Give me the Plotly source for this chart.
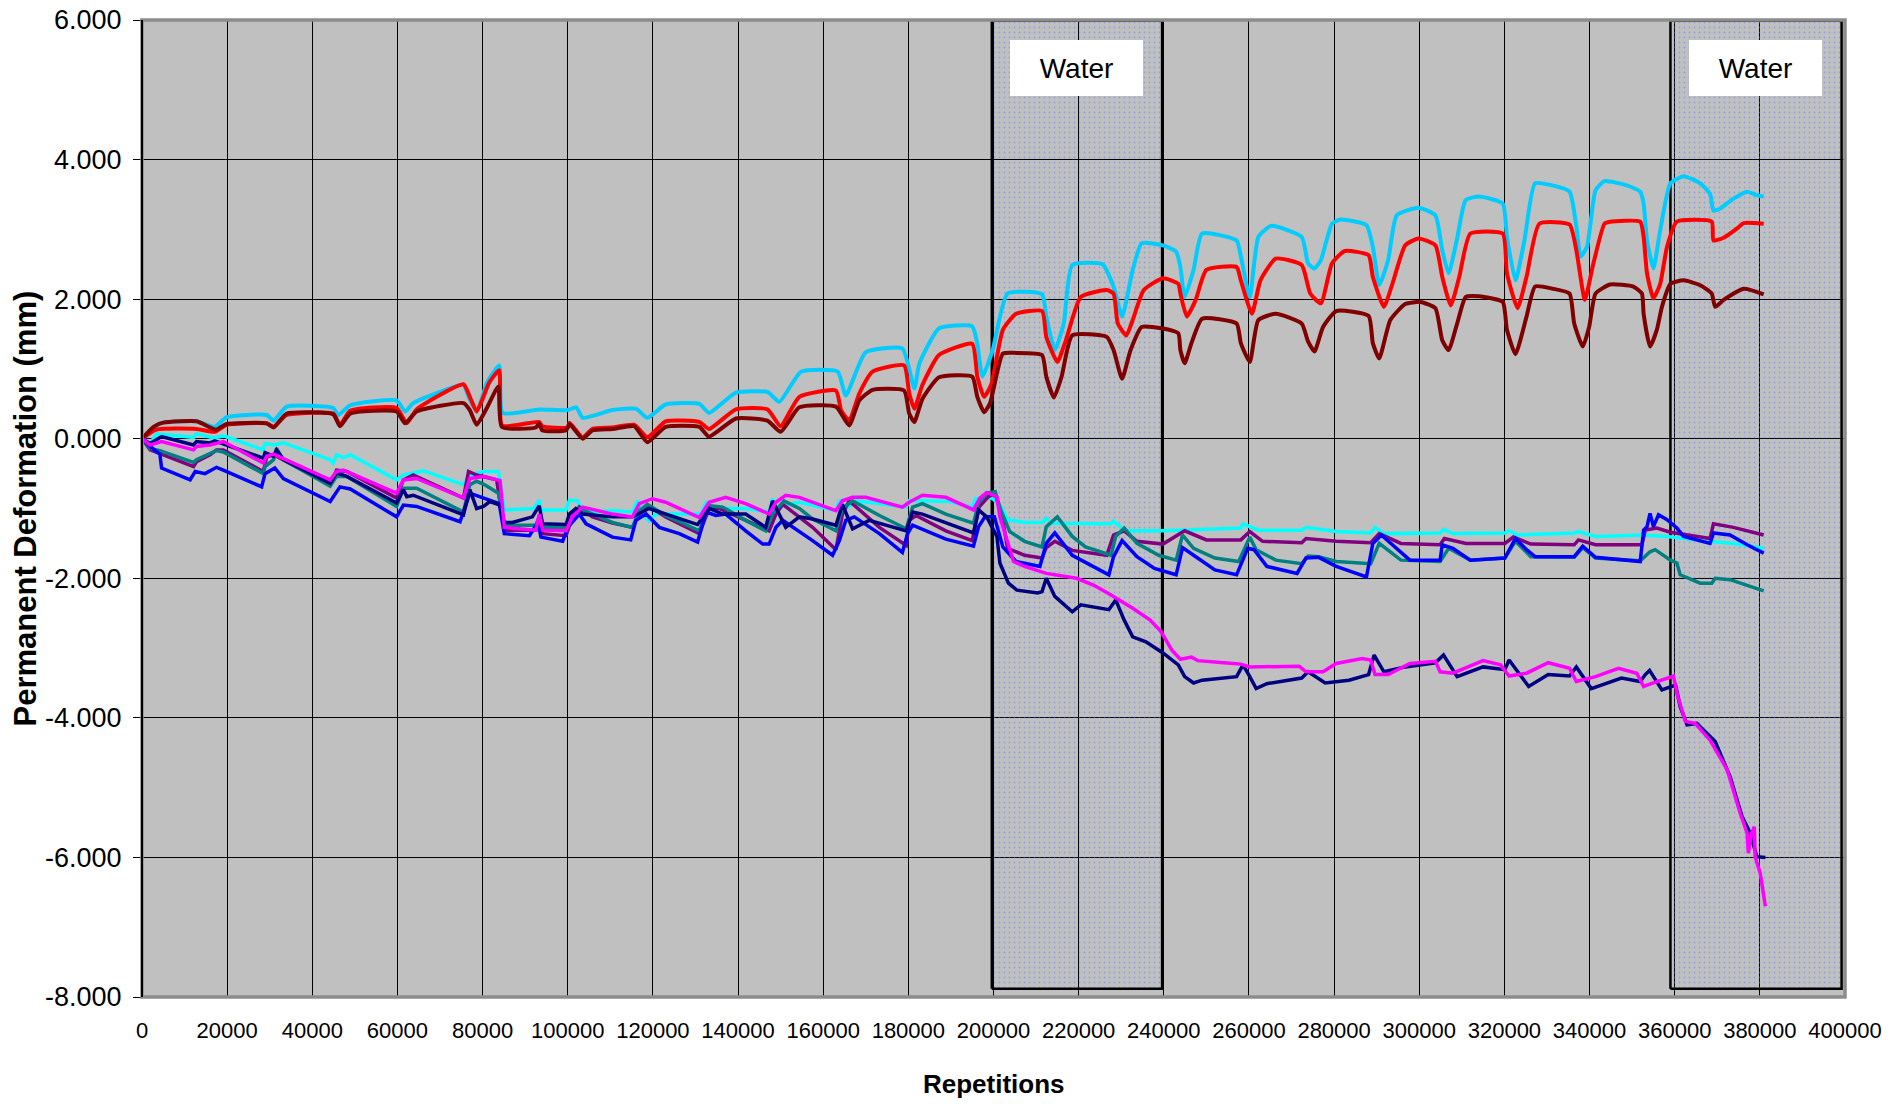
import plotly.graph_objects as go

# ---------------- data (repetitions, permanent deformation mm) ----------------
sky_x = [0, 1900, 4200, 12800, 17100, 19900, 29300, 30900, 34000, 44900, 46100, 48900, 59800, 61800, 63700,
         75500, 76700, 78600, 80200, 81000, 83900, 84700, 93300, 100000, 102000, 103500, 110500, 116000, 118700,
         123000, 130900, 133200, 139500, 146900, 149700, 154800, 163400, 165300, 170000, 178600, 181400, 182600,
         187200, 195000, 196200, 197400, 199800, 203300, 211400, 212400, 214400, 216500, 218500, 225600, 228200,
         230200, 232700, 234800, 239800, 242900, 243900, 244900, 247000, 249000, 257100, 258100, 260200, 262200,
         265200, 272400, 273900, 275400, 276900, 279500, 281500, 287600, 289100, 290600, 292700, 294700, 299800,
         303800, 305400, 306900, 308900, 310900, 314000, 319600, 320600, 322600, 324700, 327200, 331300, 335300,
         336900, 337900, 339400, 341400, 343500, 348800, 351900, 352700, 353500, 355000, 356600, 359000, 362100,
         366000, 368300, 369100, 370700, 373800, 377000, 379300, 380900]
sky_y = [0, 0.08, 0.22, 0.25, 0.17, 0.31, 0.34, 0.26, 0.46, 0.44, 0.34, 0.48, 0.55, 0.39, 0.51,
         0.77, 0.60, 0.39, 0.65, 0.80, 1.05, 0.37, 0.42, 0.41, 0.45, 0.30, 0.41, 0.43, 0.30,
         0.49, 0.50, 0.37, 0.66, 0.67, 0.53, 0.96, 0.96, 0.62, 1.24, 1.29, 0.72, 1.08,
         1.58, 1.61, 1.36, 0.89, 1.27, 2.08, 2.07, 1.75, 1.27, 1.65, 2.49, 2.50, 2.18,
         1.75, 2.42, 2.80, 2.77, 2.68, 2.46, 2.03, 2.42, 2.94, 2.84, 2.61, 2.03, 2.89,
         3.05, 2.89, 2.51, 2.44, 2.56, 3.08, 3.14, 3.06, 2.75, 2.20, 2.56, 3.20, 3.31,
         3.20, 2.70, 2.37, 2.87, 3.42, 3.47, 3.37, 2.89, 2.27, 2.84, 3.66, 3.63, 3.54,
         3.04, 2.61, 2.75, 3.56, 3.69, 3.63, 3.54, 3.37, 2.84, 2.44, 2.99, 3.66, 3.76,
         3.66, 3.51, 3.27, 3.30, 3.44, 3.54, 3.49, 3.47]

red_x = [0, 3400, 12800, 17100, 19900, 29300, 30900, 34000, 44900, 46500, 48900, 59800, 62200, 64500, 75500,
         77000, 78600, 80200, 81500, 83900, 84600, 93300, 94000, 100000, 100400, 103500, 105800, 110500, 115600,
         118700, 123000, 130900, 133200, 139500, 146900, 150000, 154400, 163000, 164200, 166100, 168500, 171600,
         179000, 180200, 181400, 183300, 187200, 195000, 196200, 197800, 199500, 202200, 205300, 211400, 212400,
         215000, 217000, 220500, 226600, 228200, 229200, 231200, 232700, 235300, 239800, 243400, 243900, 245400,
         247500, 250000, 257100, 258100, 260700, 262700, 266300, 272400, 274400, 276900, 279500, 282500, 288100,
         289100, 291700, 293700, 296700, 299800, 303800, 305400, 307400, 309400, 312000, 319600, 320600, 323100,
         325200, 328200, 335300, 336900, 338900, 340900, 343500, 344800, 351900, 352700, 353500, 355000, 356600,
         358200, 360500, 368700, 369100, 371500, 374600, 376200, 380900]
red_y = [0, 0.13, 0.14, 0.10, 0.20, 0.22, 0.17, 0.34, 0.36, 0.20, 0.40, 0.44, 0.22, 0.42, 0.78,
         0.60, 0.39, 0.60, 0.80, 0.98, 0.19, 0.24, 0.18, 0.16, 0.23, 0.02, 0.14, 0.16, 0.20,
         0.02, 0.25, 0.24, 0.14, 0.42, 0.42, 0.18, 0.60, 0.69, 0.41, 0.26, 0.65, 0.96,
         1.05, 0.65, 0.43, 0.77, 1.20, 1.36, 0.89, 0.60, 0.78, 1.56, 1.79, 1.83, 1.46,
         1.10, 1.41, 2.03, 2.13, 2.08, 1.65, 1.48, 1.70, 2.13, 2.30, 2.22, 2.08, 1.75,
         1.99, 2.42, 2.46, 2.27, 1.79, 2.27, 2.58, 2.49, 2.08, 1.94, 2.51, 2.69, 2.63,
         2.32, 1.89, 2.22, 2.77, 2.87, 2.77, 2.32, 1.91, 2.32, 2.94, 2.94, 2.37, 1.87,
         2.32, 3.08, 3.07, 2.70, 1.99, 2.51, 3.08, 3.11, 3.11, 2.89, 2.37, 2.01, 2.22,
         2.75, 3.11, 3.11, 2.84, 2.88, 3.01, 3.09, 3.08]

dkred_x = [0, 2700, 5000, 12800, 17400, 19900, 29300, 30900, 34000, 44900, 46500, 48900, 59800, 61800, 64500,
           75500, 77000, 78600, 81000, 83700, 84500, 92500, 93300, 94000, 99600, 100400, 103500, 105800, 110500,
           115600, 118700, 123000, 130900, 133200, 139500, 146900, 150000, 154400, 163000, 166100, 168500, 171600,
           179000, 180200, 181400, 183300, 187200, 195000, 196200, 197800, 199200, 202200, 205300, 211400, 212400,
           214200, 216000, 218500, 226600, 228200, 230200, 232200, 234800, 239800, 243400, 243900, 244900, 246500,
           249000, 257100, 258100, 260200, 262200, 266300, 272400, 273900, 275400, 277400, 280500, 288100, 289100,
           290600, 293200, 296700, 300300, 303800, 305400, 306900, 308900, 310900, 314000, 319600, 320600, 322600,
           325200, 327200, 331300, 335300, 336400, 338400, 339900, 341400, 344800, 350300, 352300, 352700, 354200,
           355800, 357000, 359000, 362100, 366000, 368700, 369500, 371500, 376200, 380900]
dkred_y = [0, 0.17, 0.23, 0.25, 0.13, 0.21, 0.22, 0.16, 0.36, 0.35, 0.18, 0.36, 0.39, 0.22, 0.39,
           0.51, 0.41, 0.20, 0.44, 0.75, 0.17, 0.16, 0.22, 0.12, 0.12, 0.21, 0.00, 0.12, 0.14,
           0.18, -0.05, 0.17, 0.17, 0.03, 0.29, 0.26, 0.10, 0.45, 0.46, 0.19, 0.55, 0.70,
           0.69, 0.36, 0.24, 0.57, 0.88, 0.89, 0.60, 0.38, 0.51, 1.22, 1.23, 1.20, 0.89,
           0.59, 0.89, 1.48, 1.46, 1.27, 0.86, 1.27, 1.60, 1.58, 1.51, 1.27, 1.08, 1.37,
           1.72, 1.65, 1.37, 1.10, 1.70, 1.79, 1.65, 1.39, 1.25, 1.60, 1.83, 1.76, 1.37,
           1.15, 1.70, 1.93, 1.96, 1.87, 1.41, 1.27, 1.65, 2.03, 2.04, 1.96, 1.56, 1.21,
           1.75, 2.18, 2.15, 2.08, 1.65, 1.32, 1.60, 2.08, 2.21, 2.18, 2.08, 1.79, 1.32,
           1.56, 1.89, 2.22, 2.27, 2.20, 2.08, 1.89, 1.99, 2.15, 2.07]

cyan_x = [0, 1900, 3400, 12100, 12800, 16800, 19100, 20700, 28500, 28900, 30900, 33200, 44200, 44900, 45700,
          47300, 48900, 59800, 61400, 66100, 75500, 77000, 80200, 83700, 85100, 92100, 93300, 93700, 99600,
          100400, 102300, 103100, 105800, 110500, 115200, 116400, 117600, 119100, 120700, 131300, 132500, 134000,
          141800, 147300, 148100, 149300, 150500, 154400, 163000, 163800, 165300, 167700, 179500, 180200, 182600,
          189800, 195000, 195800, 199600, 201500, 203300, 207300, 211400, 212400, 213400, 227600, 228200, 230700,
          239800, 258100, 258600, 262200, 272400, 273400, 280500, 288600, 289600, 291700, 304900, 305700, 307900,
          320100, 321100, 323200, 336400, 337400, 341400, 351600, 352700, 358200, 366000, 373800, 380900]
cyan_y = [0, -0.07, 0.07, 0.02, 0.07, 0.01, 0.04, 0.01, -0.16, -0.07, -0.09, -0.06, -0.30, -0.35, -0.23,
          -0.27, -0.23, -0.59, -0.52, -0.46, -0.66, -0.52, -0.47, -0.47, -1.02, -1.00, -0.88, -1.02, -1.02,
          -0.88, -0.89, -1.00, -1.05, -1.03, -1.05, -0.89, -1.08, -1.18, -1.08, -1.08, -0.92, -1.00,
          -1.00, -1.05, -0.86, -1.03, -0.96, -0.91, -1.03, -0.88, -1.00, -0.89, -0.98, -0.89, -0.89,
          -0.90, -0.98, -0.86, -0.85, -0.95, -1.16, -1.20, -1.20, -1.14, -1.21, -1.22, -1.18, -1.32,
          -1.32, -1.28, -1.22, -1.31, -1.31, -1.27, -1.33, -1.35, -1.27, -1.36, -1.35, -1.30, -1.36,
          -1.35, -1.32, -1.38, -1.35, -1.33, -1.40, -1.39, -1.38, -1.40, -1.46, -1.50, -1.57]

purple_x = [0, 1900, 5000, 12100, 12800, 16000, 17500, 19100, 28500, 29300, 30900, 44200, 45700, 48100, 59800,
            61400, 63700, 75500, 76700, 78600, 83300, 85100, 92500, 93300, 94100, 99600, 101100, 102700, 105800,
            110500, 115200, 116800, 119100, 123000, 130900, 133200, 135600, 141800, 147300, 148900, 150500, 157500,
            163000, 164500, 166100, 173200, 179500, 180200, 181800, 188800, 195000, 196600, 198800, 200400, 202300,
            203300, 207300, 211400, 212400, 214400, 218500, 226600, 228200, 230700, 233700, 239800, 243900, 244900,
            250000, 258100, 260200, 263200, 272400, 273400, 280500, 288600, 290600, 295700, 304900, 305900, 311000,
            320100, 322100, 326200, 336400, 337400, 341400, 352300, 353100, 355800, 359000, 368300, 369100, 373800,
            380900]
purple_y = [0, -0.16, -0.23, -0.40, -0.33, -0.23, -0.16, -0.16, -0.47, -0.26, -0.23, -0.66, -0.45, -0.47, -0.85,
            -0.59, -0.52, -0.85, -0.47, -0.52, -0.59, -1.31, -1.31, -1.17, -1.36, -1.39, -1.12, -0.98, -1.12,
            -1.21, -1.27, -1.08, -0.97, -1.12, -1.36, -1.00, -1.00, -1.17, -1.32, -1.08, -0.94, -1.27,
            -1.59, -1.08, -0.89, -1.27, -1.53, -1.17, -1.10, -1.32, -1.46, -0.98, -0.83, -0.78, -1.21,
            -1.57, -1.67, -1.71, -1.56, -1.47, -1.60, -1.67, -1.38, -1.32, -1.47, -1.51, -1.35, -1.32,
            -1.45, -1.45, -1.33, -1.47, -1.49, -1.43, -1.47, -1.49, -1.36, -1.50, -1.52, -1.43, -1.50,
            -1.50, -1.41, -1.51, -1.52, -1.45, -1.52, -1.52, -1.31, -1.28, -1.34, -1.43, -1.22, -1.27,
            -1.38]

teal_x = [0, 1900, 4200, 12100, 12800, 17500, 19100, 28500, 28900, 30900, 31600, 33200, 44200, 45700, 48100,
          59800, 61400, 64500, 75500, 77000, 78600, 80200, 83700, 85100, 92500, 93300, 94100, 99600, 102700,
          105800, 110500, 115200, 116800, 118700, 123000, 130900, 133200, 136400, 141800, 146500, 148100, 150800,
          154400, 157500, 163000, 164500, 166900, 173200, 179500, 181000, 183300, 188800, 195300, 196500, 198400,
          200400, 201700, 203800, 207300, 211400, 212400, 215000, 218500, 221600, 227600, 228700, 230700, 233700,
          238800, 242900, 244400, 247000, 252000, 257600, 260200, 261700, 266300, 272400, 273900, 276400, 280500,
          288600, 290600, 295700, 304900, 306900, 312000, 320100, 322600, 326200, 336400, 338400, 341400, 351900,
          354200, 355400, 359000, 360500, 361300, 366000, 368700, 369500, 373000, 380900]
teal_y = [0, -0.14, -0.17, -0.34, -0.30, -0.17, -0.19, -0.50, -0.40, -0.30, -0.14, -0.30, -0.68, -0.54, -0.54,
          -0.97, -0.71, -0.71, -1.05, -0.66, -0.61, -0.65, -0.78, -1.24, -1.24, -1.12, -1.27, -1.27, -1.00,
          -1.08, -1.20, -1.27, -1.03, -0.94, -1.10, -1.32, -0.96, -0.98, -1.17, -1.32, -1.08, -0.89,
          -1.00, -1.15, -1.32, -1.00, -0.89, -1.10, -1.29, -0.98, -0.93, -1.08, -1.21, -0.92, -0.78,
          -0.76, -1.02, -1.33, -1.47, -1.55, -1.26, -1.12, -1.40, -1.55, -1.67, -1.40, -1.28, -1.50,
          -1.67, -1.74, -1.38, -1.57, -1.71, -1.76, -1.41, -1.59, -1.74, -1.79, -1.68, -1.69, -1.76,
          -1.79, -1.50, -1.74, -1.76, -1.57, -1.74, -1.71, -1.47, -1.69, -1.70, -1.56, -1.71, -1.75,
          -1.62, -1.59, -1.74, -1.78, -1.95, -2.07, -2.07, -2.00, -2.02, -2.18]

blue_x = [0, 1900, 4200, 4600, 11300, 12500, 14800, 17500, 19100, 28100, 28900, 31200, 33200, 44200, 46500,
          48900, 59800, 61400, 64500, 74700, 77000, 79400, 83900, 85100, 91000, 93000, 93700, 98800, 100000,
          102700, 104300, 110500, 114800, 116000, 118400, 121500, 126200, 130500, 132500, 134800, 137100, 141800,
          145800, 147300, 148900, 150500, 157500, 162200, 163800, 165300, 167300, 173200, 178600, 179800, 181000,
          188800, 195300, 196500, 198000, 200200, 202200, 205300, 210900, 212400, 214400, 218500, 223600, 227100,
          228200, 230200, 233700, 237800, 242900, 244400, 247000, 252000, 257100, 259700, 261200, 264200, 271300,
          273400, 276400, 280500, 287600, 289100, 291100, 294700, 297800, 304900, 305400, 307900, 312000, 320100,
          322600, 325200, 327200, 336400, 338400, 341400, 351900, 352700, 353500, 354200, 355000, 356200, 358200,
          360500, 362100, 368300, 369100, 373000, 377000, 380900]
blue_y = [0, -0.11, -0.22, -0.42, -0.59, -0.47, -0.50, -0.41, -0.45, -0.69, -0.50, -0.42, -0.57, -0.90, -0.69,
          -0.72, -1.12, -0.95, -0.97, -1.19, -0.78, -0.83, -0.93, -1.36, -1.39, -1.20, -1.41, -1.47, -1.27,
          -1.08, -1.22, -1.41, -1.45, -1.17, -1.08, -1.27, -1.36, -1.48, -1.05, -1.10, -1.08, -1.32,
          -1.51, -1.51, -1.27, -1.17, -1.46, -1.67, -1.46, -1.17, -1.12, -1.36, -1.63, -1.36, -1.24,
          -1.44, -1.54, -1.26, -1.12, -1.12, -1.55, -1.76, -1.83, -1.50, -1.35, -1.67, -1.83, -1.95,
          -1.69, -1.46, -1.69, -1.86, -1.95, -1.56, -1.67, -1.88, -1.95, -1.57, -1.59, -1.83, -1.93,
          -1.71, -1.70, -1.83, -1.98, -1.50, -1.38, -1.58, -1.74, -1.74, -1.52, -1.57, -1.74, -1.71,
          -1.43, -1.59, -1.69, -1.69, -1.54, -1.70, -1.76, -1.31, -1.26, -1.07, -1.26, -1.09, -1.16,
          -1.28, -1.40, -1.50, -1.35, -1.38, -1.52, -1.64]

navy_x = [0, 1900, 4600, 12100, 12800, 16000, 17100, 28500, 28900, 30900, 31600, 33200, 44200, 45700, 48100,
          59800, 61400, 62200, 63700, 75500, 77000, 78600, 80200, 81700, 84100, 85100, 87000, 91700, 93300,
          94100, 99600, 100400, 101900, 103500, 110500, 115200, 119100, 123000, 130500, 133200, 136400, 141800,
          146500, 148100, 149700, 151200, 154400, 157500, 163000, 164500, 166900, 170800, 179500, 181000, 183300,
          188800, 195300, 196500, 198400, 200800, 201500, 203500, 205500, 210400, 211400, 212400, 214400, 218500,
          220500, 227100, 228700, 230700, 232700, 235800, 239800, 243400, 244900, 247000, 249000, 257100, 258600,
          260200, 261700, 264200, 272400, 273900, 277900, 283500, 288100, 289400, 291700, 296700, 300800, 303800,
          305700, 308900, 315000, 320100, 321100, 325700, 330300, 335300, 336900, 340400, 347500, 351900, 353100,
          354100, 357000, 360200, 361300, 362900, 365200, 369500, 373000, 375800, 377700, 379300, 381300]
navy_y = [0, -0.07, 0.03, -0.09, -0.04, -0.06, -0.03, -0.28, -0.20, -0.25, -0.16, -0.30, -0.64, -0.49, -0.54,
          -0.92, -0.73, -0.83, -0.81, -1.09, -0.73, -1.00, -0.97, -0.90, -0.95, -1.20, -1.20, -1.12, -0.96,
          -1.22, -1.23, -1.08, -1.00, -1.08, -1.12, -1.12, -1.00, -1.08, -1.23, -1.00, -1.08, -1.08,
          -1.27, -0.89, -1.08, -1.27, -1.12, -1.15, -1.24, -0.94, -1.29, -1.17, -1.32, -1.05, -1.08,
          -1.20, -1.35, -1.02, -1.12, -1.40, -1.78, -2.07, -2.17, -2.21, -2.19, -2.00, -2.26, -2.48,
          -2.38, -2.45, -2.31, -2.60, -2.84, -2.91, -3.07, -3.24, -3.41, -3.50, -3.46, -3.41, -3.24,
          -3.41, -3.58, -3.51, -3.43, -3.34, -3.50, -3.46, -3.38, -3.10, -3.34, -3.27, -3.23, -3.21,
          -3.10, -3.41, -3.27, -3.31, -3.17, -3.55, -3.38, -3.40, -3.27, -3.58, -3.43, -3.48, -3.38,
          -3.32, -3.60, -3.53, -3.84, -4.10, -4.08, -4.34, -4.84, -5.41, -5.65, -5.99, -6.00]

mag_x = [0, 1900, 4600, 12100, 12800, 16000, 19100, 28500, 29300, 30900, 44200, 45700, 47300, 59800, 61400,
         64500, 75500, 77000, 80200, 84100, 85100, 92500, 93300, 94100, 99600, 101100, 103500, 110500, 115200,
         116800, 119900, 123000, 130900, 133200, 137100, 141800, 147300, 148900, 151200, 154400, 163000, 164500,
         166900, 170000, 178600, 180200, 183300, 188800, 195300, 196800, 198400, 200800, 201500, 203100, 204700,
         207300, 212400, 219500, 223600, 227600, 232700, 236800, 239300, 241900, 243900, 246500, 248000, 254100,
         258100, 260200, 266300, 271800, 273400, 277400, 280500, 286600, 288600, 289600, 292700, 297800, 303800,
         304900, 307900, 315000, 319100, 321100, 325200, 330300, 335300, 336900, 341400, 346800, 351100, 352700,
         353500, 355400, 359700, 360700, 362500, 364800, 368300, 372300, 375400, 377000, 377300, 378100, 378700,
         378900, 380100, 381300]
mag_y = [0, -0.09, -0.04, -0.16, -0.11, -0.09, -0.04, -0.35, -0.25, -0.22, -0.59, -0.47, -0.45, -0.78, -0.59,
         -0.57, -0.85, -0.57, -0.54, -0.60, -1.27, -1.31, -1.08, -1.31, -1.32, -1.12, -0.98, -1.08, -1.12,
         -0.93, -0.86, -0.91, -1.13, -0.91, -0.84, -0.93, -1.08, -0.91, -0.81, -0.84, -1.03, -0.89,
         -0.84, -0.84, -0.98, -0.91, -0.81, -0.84, -1.02, -0.85, -0.77, -0.83, -1.12, -1.45, -1.76,
         -1.83, -1.93, -2.00, -2.10, -2.24, -2.43, -2.60, -2.76, -3.03, -3.16, -3.13, -3.18, -3.21,
         -3.23, -3.27, -3.26, -3.26, -3.34, -3.34, -3.22, -3.15, -3.17, -3.38, -3.38, -3.22, -3.19,
         -3.34, -3.36, -3.18, -3.24, -3.40, -3.36, -3.21, -3.29, -3.48, -3.41, -3.29, -3.36, -3.55,
         -3.53, -3.49, -3.40, -3.69, -4.05, -4.08, -4.32, -4.74, -5.37, -5.65, -5.94, -5.65, -5.56,
         -5.99, -6.23, -6.70]

# water immersion periods (repetitions) and box vertical extent (mm)
water_start = [199600, 359000]
water_end = [239600, 399200]
water_bottom = -7.88
water_top = 5.99
water_label = ["Water", "Water"]

x_range = [0, 400000]
y_range = [-8, 6]
y_tick_vals = [-8, -6, -4, -2, 0, 2, 4, 6]
y_tick_text = ["-8.000", "-6.000", "-4.000", "-2.000", "0.000", "2.000", "4.000", "6.000"]

series = [
    ("sky", sky_x, sky_y, "#00CCFF", 4, "spline"),
    ("red", red_x, red_y, "#FF0000", 4, "spline"),
    ("dkred", dkred_x, dkred_y, "#800000", 4, "spline"),
    ("cyan", cyan_x, cyan_y, "#00FFFF", 3.5, "linear"),
    ("purple", purple_x, purple_y, "#800080", 3.5, "linear"),
    ("teal", teal_x, teal_y, "#008080", 3.5, "linear"),
    ("blue", blue_x, blue_y, "#0000FF", 3.5, "linear"),
    ("navy", navy_x, navy_y, "#000080", 3.5, "linear"),
    ("magenta", mag_x, mag_y, "#FF00FF", 3.5, "linear"),
]

FONT = "Liberation Sans, Arial, sans-serif"

fig = go.Figure()

# water boxes with dotted pattern
for xs, xe in zip(water_start, water_end):
    fig.add_trace(go.Scatter(
        x=[xs, xe, xe, xs, xs],
        y=[water_bottom, water_bottom, water_top, water_top, water_bottom],
        mode="lines", fill="toself",
        fillcolor="rgba(0,0,0,0)",
        fillpattern=dict(shape=".", fgcolor="#5A82FF", bgcolor="rgba(0,0,0,0)",
                         size=5, solidity=0.1, fillmode="overlay"),
        line=dict(color="black", width=2.5),
        hoverinfo="skip", showlegend=False))

for name, xs, ys, col, w, shp in series:
    line = dict(color=col, width=w, shape=shp)
    if shp == "spline":
        line["smoothing"] = 0.5
    fig.add_trace(go.Scatter(x=xs, y=ys, mode="lines", name=name,
                             line=line, showlegend=False))

for xs, xe, lab in zip(water_start, water_end, water_label):
    fig.add_annotation(x=(xs + xe) / 2 - 200, y=5.31, xref="x", yref="y",
                       text=lab, showarrow=False, bgcolor="white",
                       width=133, height=56, borderpad=0, borderwidth=0,
                       font=dict(family=FONT, size=28, color="black"),
                       xanchor="center", yanchor="middle")

# axis titles
fig.add_annotation(text="Permanent Deformation (mm)", xref="paper", yref="paper",
                   x=-0.0687, y=0.5, textangle=-90, showarrow=False,
                   xanchor="center", yanchor="middle",
                   font=dict(family=FONT, size=31, color="black", weight="bold"))
fig.add_annotation(text="Repetitions", xref="paper", yref="paper",
                   x=0.50, y=-0.089, showarrow=False,
                   xanchor="center", yanchor="middle",
                   font=dict(family=FONT, size=26, color="black", weight="bold"))

fig.update_layout(
    width=1890, height=1104,
    margin=dict(l=142, r=45, t=20, b=107, autoexpand=False),
    paper_bgcolor="white", plot_bgcolor="#C0C0C0",
    showlegend=False,
    xaxis=dict(range=x_range, dtick=20000, tick0=0, tickformat="d",
               automargin=False, ticklabeloverflow="allow",
               showgrid=True, gridcolor="black", gridwidth=1,
               zeroline=False, showline=False, ticks="",
               tickfont=dict(family=FONT, size=22, color="black"),
               ticklabelstandoff=18),
    xaxis2=dict(range=x_range, dtick=20000, tick0=0, overlaying="x",
                anchor="free", position=8 / 14, side="bottom",
                automargin=False,
                showgrid=False, zeroline=False, showticklabels=False,
                showline=True, linecolor="#505050", linewidth=2,
                ticks="outside", ticklen=8, tickcolor="#505050", tickwidth=1.5),
    yaxis=dict(range=y_range, tickvals=y_tick_vals, ticktext=y_tick_text,
               automargin=False, ticklabeloverflow="allow",
               showgrid=True, gridcolor="black", gridwidth=1,
               zeroline=False, showline=False,
               ticks="outside", ticklen=8, tickcolor="black", tickwidth=1,
               tickfont=dict(family=FONT, size=27, color="black"),
               ticklabelstandoff=6),
)

# plot area border
fig.add_shape(type="rect", xref="paper", yref="paper", x0=0, y0=0, x1=1, y1=1,
              line=dict(color="#8C8C8C", width=3.5), layer="above")
fig.add_shape(type="line", xref="paper", yref="paper", x0=0, y0=0, x1=0, y1=1,
              line=dict(color="black", width=2), layer="above")

# remove the browser's default 8px page margin so the figure fills the window exactly
fig.write_html("out.html", config={"displayModeBar": False},
               post_script="document.body.style.margin='0px';document.body.style.overflow='hidden';")
